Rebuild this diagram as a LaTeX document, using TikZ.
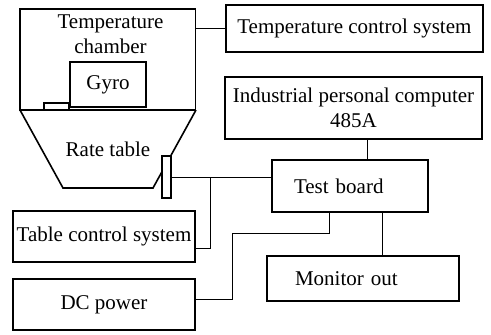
\documentclass[tikz,border=0pt]{standalone}
\usepackage{fontspec}
\setmainfont{Liberation Serif}
\newfontfamily\tnr{Liberation Serif}
\usetikzlibrary{calc}
\begin{document}
\begin{tikzpicture}[x=1pt,y=-1pt,
  box/.style={draw,line width=1.6pt,rectangle,inner sep=2pt,align=center},
  conn/.style={line width=1pt},
  every node/.style={font=\tnr\fontsize{21}{25}\selectfont}]
\useasboundingbox (0,0) rectangle (491,335);
% chamber
\node[box,minimum width=175.5,minimum height=101] (chamber) at (107.7,59.5) {};
\node[align=center,inner sep=0] (chamberlbl) at (110.5,34) {Temperature\\chamber};
\node[box,minimum width=76,minimum height=45] (gyro) at (108,84.5) {Gyro};
\node[box,inner sep=0,minimum width=24.7,minimum height=7] (pad) at (56.6,106.5) {};
% rate table
\draw[line width=1.6pt,line join=miter] (20,110) -- (63,188) -- (153,188) -- (196,110);
\node[inner sep=0] (ratelbl) at (108,149) {Rate table};
\node[box,fill=white,inner sep=0,minimum width=9,minimum height=42] (sensor) at (166.5,177) {};
% right blocks
\node[box,minimum width=257,minimum height=47] (tcs) at (354.4,28.5) {Temperature control system};
\node[box,minimum width=257,minimum height=62] (ipc) at (353.5,108) {Industrial personal computer\\485A};
\node[box,minimum height=52,inner xsep=22pt,text width=112pt,align=left] (tb) at (350,186) {Test board};
\node[box,minimum height=45,inner xsep=28pt,text width=136pt,align=left] (mon) at (363,278.5) {Monitor out};
% left blocks
\node[box,minimum width=182,minimum height=51] (tabc) at (104,236.5) {Table control system};
\node[box,minimum width=182,minimum height=51] (dcp) at (104,304.5) {DC power};
% connectors
\draw[conn] (tcs.west) -- (tcs.west -| chamber.east);
\draw[conn] (sensor.east) -- (sensor.east -| tb.west);
\coordinate (j) at (210.5,177);
\coordinate (tabin) at ($(tabc.east)+(0,11.5)$);
\draw[conn] (j) |- (tabin);
\coordinate (dcout) at ($(dcp.east)+(0,-5.5)$);
\coordinate (dcbend) at (232,233);
\coordinate (tbin) at ($(tb.south)+(-21,0)$);
\draw[conn] (dcout) -| (dcbend) -| (tbin);
\coordinate (ipcout) at ($(ipc.south)+(13.5,0)$);
\draw[conn] (ipcout) -- (ipcout |- tb.north);
\coordinate (tbout) at ($(tb.south)+(32,0)$);
\draw[conn] (tbout) -- (tbout |- mon.north);
\end{tikzpicture}
\end{document}
